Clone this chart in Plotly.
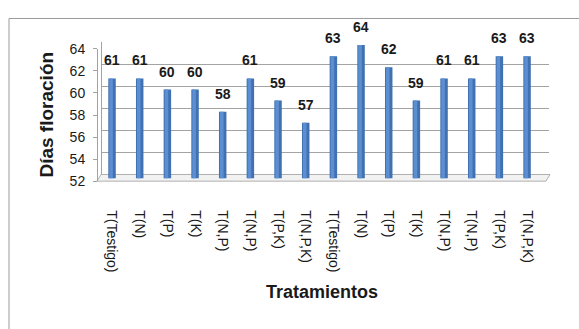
import plotly.graph_objects as go

# Treatments and days to flowering
tratamientos = ["T(Testigo)", "T(N)", "T(P)", "T(K)", "T(N,P)", "T(N,P)", "T(P,K)", "T(N,P,K)",
                "T(Testigo)", "T(N)", "T(P)", "T(K)", "T(N,P)", "T(N,P)", "T(P,K)", "T(N,P,K)"]
dias = [61, 61, 60, 60, 58, 61, 59, 57, 63, 64, 62, 59, 61, 61, 63, 63]
y_ticks = [52, 54, 56, 58, 60, 62, 64]

W, H = 579, 329
NARROW = "Liberation Sans Narrow, Arial Narrow, Liberation Sans, Arial, sans-serif"
ARIAL = "Liberation Sans, Arial, sans-serif"
INK = "#1a1a1a"
GRID = "#a3a3a3"


def px(x):
    return x / W


def py(y):
    return 1 - y / H


idx = list(range(len(dias)))
yr = [y_ticks[0], y_ticks[-1]]

fig = go.Figure()

# back wall subplot (gridlines) - drawn first so it sits behind the bars
fig.add_trace(go.Scatter(x=[0], y=[yr[0]], mode="markers", marker=dict(opacity=0),
                         hoverinfo="skip", showlegend=False, xaxis="x", yaxis="y"))

# cylinders: body with a lighter core
fig.add_trace(go.Bar(x=idx, y=dias, width=0.27, marker=dict(color="#4171b1", line=dict(width=0)),
                     xaxis="x2", yaxis="y2", showlegend=False, hoverinfo="skip"))
fig.add_trace(go.Bar(x=idx, y=dias, width=0.13, offset=-0.1, marker=dict(color="#5b8fd2", line=dict(width=0)),
                     xaxis="x2", yaxis="y2", showlegend=False, hoverinfo="skip"))

# front axis subplot (tick labels)
fig.add_trace(go.Scatter(x=[0], y=[yr[0]], mode="markers", marker=dict(opacity=0),
                         hoverinfo="skip", showlegend=False, xaxis="x3", yaxis="y3"))

# value labels above each bar
annotations = [
    dict(x=i, y=v, xref="x2", yref="y2", text=str(v), showarrow=False,
         xanchor="center", yanchor="bottom", yshift=8,
         font=dict(family=NARROW, size=14, color=INK, weight="bold"))
    for i, v in zip(idx, dias)
]
annotations += [
    dict(x=px(47), y=py(112), xref="paper", yref="paper", text="Días floración", textangle=-90,
         xanchor="center", yanchor="middle", showarrow=False,
         font=dict(family=ARIAL, size=19, color=INK, weight="bold")),
    dict(x=px(322), y=py(299), xref="paper", yref="paper", text="Tratamientos",
         xanchor="center", yanchor="middle", showarrow=False,
         font=dict(family=NARROW, size=18, color=INK, weight="bold")),
]

shapes = [
    # outer chart frame
    dict(type="rect", xref="paper", yref="paper", x0=px(9), y0=py(340), x1=px(590), y1=py(11),
         line=dict(color="#9a9a9a", width=1), layer="below"),
    # floor slab
    dict(type="path", xref="paper", yref="paper",
         path=f"M {px(97)} {py(182)} L {px(101)} {py(175)} L {px(550)} {py(175)} "
              f"L {px(546)} {py(182)} Z",
         fillcolor="#f2f2f2", line=dict(color="#b0b0b0", width=1), layer="below"),
]

fig.update_layout(
    width=W, height=H, margin=dict(l=0, r=0, t=0, b=0),
    paper_bgcolor="white", plot_bgcolor="rgba(0,0,0,0)",
    barmode="overlay", showlegend=False,
    annotations=annotations, shapes=shapes,
    xaxis=dict(domain=[px(102), px(549)], range=[0, 1], visible=False, anchor="y"),
    yaxis=dict(domain=[py(175), py(36)], range=yr, tickvals=y_ticks, showgrid=True,
               gridcolor=GRID, gridwidth=1, showticklabels=False, zeroline=False,
               showline=True, linecolor=GRID, anchor="x"),
    xaxis2=dict(domain=[px(98.2), px(540.9)], range=[-0.5, len(dias) - 0.5], anchor="y2",
                tickvals=idx, ticktext=tratamientos, tickangle=90, ticks="",
                ticklabelstandoff=31, showgrid=False, zeroline=False, showline=False,
                tickfont=dict(family=ARIAL, size=14, color=INK)),
    yaxis2=dict(domain=[py(179), py(39)], range=yr, visible=False, anchor="x2"),
    xaxis3=dict(domain=[px(98), px(99)], range=[0, 1], visible=False, anchor="y3"),
    yaxis3=dict(domain=[py(182), py(43)], range=yr, tickvals=y_ticks, anchor="x3",
                showgrid=False, zeroline=False, showline=True, linecolor=GRID,
                ticks="outside", ticklen=4, tickcolor=GRID, ticklabelstandoff=5,
                tickfont=dict(family=NARROW, size=14, color=INK)),
)

fig.write_html("out.html")
